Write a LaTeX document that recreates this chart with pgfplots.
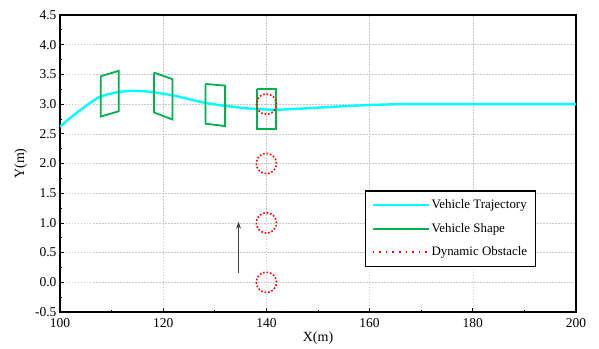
\documentclass[border=0pt]{standalone}
\usepackage{pgfplots}
\pgfplotsset{compat=1.18}
\usepackage{pgfplotstable}
\usepackage{fontspec}
\setmainfont{Liberation Serif}
\usetikzlibrary{arrows.meta}

\definecolor{trajcyan}{RGB}{0,255,255}
\definecolor{shapegreen}{RGB}{0,176,80}
\definecolor{obsred}{RGB}{255,0,0}
\definecolor{gridgray}{RGB}{200,200,200}
\definecolor{arrowgray}{RGB}{64,64,64}

% Unit outline of an obstacle (ellipse offsets in data units)
\pgfplotstableread{
dx      dy
1.950   0.000
1.884   0.044
1.689   0.085
1.379   0.120
0.975   0.147
0.505   0.164
0.000   0.170
-0.505  0.164
-0.975  0.147
-1.379  0.120
-1.689  0.085
-1.884  0.044
-1.950  0.000
-1.884  -0.044
-1.689  -0.085
-1.379  -0.120
-0.975  -0.147
-0.505  -0.164
0.000   -0.170
0.505   -0.164
0.975   -0.147
1.379   -0.120
1.689   -0.085
1.884   -0.044
1.950   0.000
}\obstacle

% Planned vehicle path
\pgfplotstableread{
x      y
100.0  2.62
101.6  2.74
103.5  2.87
105.5  3.00
107.4  3.11
109.4  3.17
111.9  3.21
114.0  3.225
116.5  3.215
118.5  3.195
120.3  3.17
122.3  3.14
124.2  3.10
126.2  3.06
128.1  3.02
130.0  2.995
132.0  2.97
134.0  2.95
135.9  2.93
137.8  2.92
139.7  2.91
141.7  2.905
143.6  2.91
146.0  2.92
150.0  2.94
155.0  2.965
160.0  2.985
166.0  3.00
175.0  3.00
200.0  3.00
}\trajectory

\begin{document}
\begin{tikzpicture}
\begin{axis}[
  scale only axis,
  width=516pt, height=297pt,
  xmin=100, xmax=200, ymin=-0.5, ymax=4.5,
  xtick={100,120,...,200},
  ytick={-0.5,0,...,4.5},
  minor x tick num=1,
  minor y tick num=1,
  tick pos=left,
  tick align=inside,
  major tick length=4pt,
  minor tick length=2.5pt,
  every tick/.style={black, line width=0.8pt},
  axis line style={black, line width=1.3pt},
  grid=major,
  major grid style={gridgray, line width=0.5pt, dash pattern=on 1.5pt off 1.5pt},
  /pgf/number format/assume math mode=true,
  yticklabel style={/pgf/number format/fixed, /pgf/number format/fixed zerofill, /pgf/number format/precision=1},
  xticklabel style={yshift=-3pt, /pgf/number format/fixed},
  ticklabel style={font=\fontsize{13.5}{15}\selectfont},
  xlabel={X(m)}, ylabel={Y(m)},
  label style={font=\fontsize{14}{16}\selectfont},
  xlabel style={yshift=3pt},
  ylabel style={yshift=1pt},
  legend cell align=left,
  legend style={
    at={(0.922,0.152)}, anchor=south east,
    draw=black, line width=1.2pt,
    font=\fontsize{12.9}{14}\selectfont,
    inner xsep=6pt, inner ysep=7pt,
    row sep=9pt,
    nodes={inner sep=2pt}
  },
  legend image code/.code={\draw[#1, line width=2pt] (0pt,0pt) -- (56pt,0pt);},
]

\coordinate (sw) at (rel axis cs:0,0);
\coordinate (ne) at (rel axis cs:1,1);

\addplot[trajcyan, line width=2.4pt, line join=round] table[x=x, y=y] {\trajectory};
\addlegendentry{Vehicle Trajectory}

\addplot[shapegreen, line width=1.8pt, line join=miter] coordinates {
  (107.9,3.47) (111.4,3.56) (111.4,2.88) (107.9,2.79) (107.9,3.47)};
\addlegendentry{Vehicle Shape}
\addplot[shapegreen, line width=1.8pt, forget plot] coordinates {
  (118.2,3.53) (121.8,3.42) (121.8,2.74) (118.2,2.86) (118.2,3.53)};
\addplot[shapegreen, line width=1.8pt, forget plot] coordinates {
  (128.2,3.34) (132.0,3.31) (132.0,2.63) (128.2,2.67) (128.2,3.34)};
\addplot[shapegreen, line width=1.8pt, forget plot] coordinates {
  (138.2,3.25) (141.9,3.25) (141.9,2.58) (138.2,2.58) (138.2,3.25)};

\addplot[obsred, line width=1.6pt, dash pattern=on 1.6pt off 1.9pt,
  legend image code/.code={\draw[obsred, line width=1.6pt, dash pattern=on 1.6pt off 5pt] (0pt,0pt) -- (56pt,0pt);}]
  table[x expr=\thisrow{dx}+140, y expr=\thisrow{dy}+3] {\obstacle};
\addlegendentry{Dynamic Obstacle}
\addplot[obsred, line width=1.6pt, dash pattern=on 1.6pt off 1.9pt, forget plot]
  table[x expr=\thisrow{dx}+140, y expr=\thisrow{dy}+2] {\obstacle};
\addplot[obsred, line width=1.6pt, dash pattern=on 1.6pt off 1.9pt, forget plot]
  table[x expr=\thisrow{dx}+140, y expr=\thisrow{dy}+1] {\obstacle};
\addplot[obsred, line width=1.6pt, dash pattern=on 1.6pt off 1.9pt, forget plot]
  table[x expr=\thisrow{dx}+140, y expr=\thisrow{dy}+0] {\obstacle};

% direction of obstacle motion
\addplot[arrowgray, line width=1pt, -{Stealth[length=7pt,width=5pt]}, forget plot]
  coordinates {(134.6,0.15) (134.6,1.02)};
\end{axis}
\pgfresetboundingbox
\path[use as bounding box] ([shift={(-60pt,-36pt)}]sw) rectangle ([shift={(23pt,15pt)}]ne);
\end{tikzpicture}
\end{document}
